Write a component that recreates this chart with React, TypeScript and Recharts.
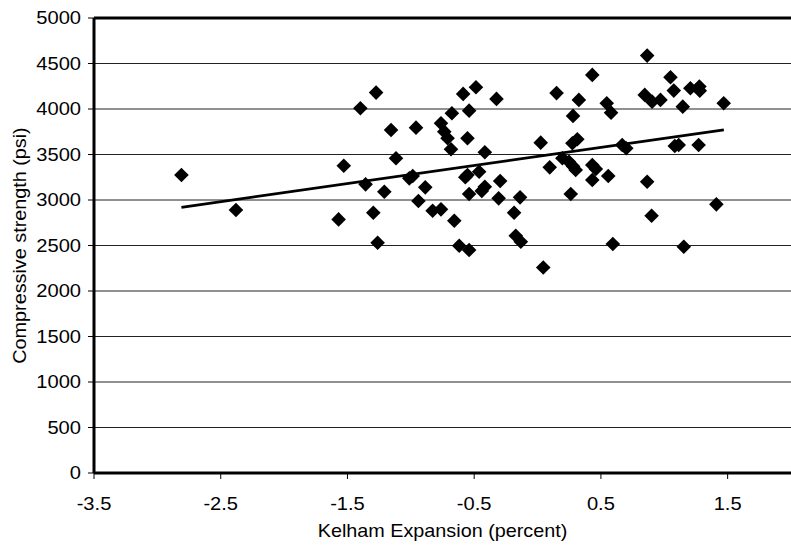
import React from 'react';
import { ScatterChart, Scatter, XAxis, YAxis, CartesianGrid, ReferenceLine, Label } from 'recharts';

const expansion = [
  -2.81, -2.38,
  -1.274, -1.398, -1.156, -0.959, -1.529, -1.117, -1.357, -1.209, -1.012, -0.985, -0.886, -0.94, -0.828, -0.762, -1.296, -1.57, -1.262,
  -0.762, -0.736, -0.71, -0.683,
  -0.587, -0.486, -0.324, 0.15, -0.676, -0.54, -0.553, -0.416, 0.025, 0.096, -0.553, -0.57, -0.461, -0.416, -0.44, -0.54, -0.295, -0.307, -0.138, -0.185, -0.172, -0.132, 0.045, -0.657, -0.618, -0.54,
  0.865, 0.432, 1.049, 1.075, 0.326, 0.546, 0.58, 0.846, 0.904, 0.97, 0.28, 0.314, 0.275, 0.668, 0.7, 1.083, 0.196, 0.248, 0.301, 0.28, 0.432, 0.46, 0.432, 0.558, 0.262, 0.865, 0.9, 0.594, 1.154,
  1.206, 1.277, 1.28, 1.146, 1.469, 1.114, 1.271, 1.411,
];

const strength = [
  3275, 2890,
  4180, 4008, 3770, 3795, 3377, 3458, 3172, 3091, 3238, 3264, 3139, 2989, 2882, 2897, 2860, 2787, 2530,
  3843, 3751, 3678, 3557,
  4166, 4239, 4111, 4175, 3953, 3982, 3678, 3524, 3630, 3359, 3275, 3250, 3311, 3146, 3100, 3066, 3209, 3018, 3029, 2860, 2607, 2541, 2259, 2772, 2497, 2450,
  4587, 4375, 4349, 4202, 4100, 4063, 3960, 4155, 4081, 4100, 3924, 3667, 3623, 3605, 3568, 3594, 3458, 3421, 3330, 3370, 3385, 3340, 3220, 3264, 3066, 3201, 2827, 2516, 2486,
  4228, 4246, 4200, 4026, 4063, 3605, 3605, 2952,
];

const trendX = [-2.81, 1.47];
const trendY = [2920, 3770];

const xTicks = [-3.5, -2.5, -1.5, -0.5, 0.5, 1.5];
const yTicks = [0, 500, 1000, 1500, 2000, 2500, 3000, 3500, 4000, 4500, 5000];

const points = expansion.map((x, i) => ({ x, y: strength[i] }));
const trend = trendX.map((x, i) => ({ x, y: trendY[i] }));

const FONT = '"Liberation Sans", Arial, sans-serif';
const TICK_SIZE = 17.5;
const TICK_SCALE = 1.15;
const LABEL_SIZE = 18;
const LABEL_SCALE = 1.1;

const Diamond = (props: any) => {
  const { cx, cy } = props;
  if (cx == null || cy == null) return <g />;
  const r = 7.3;
  return (
    <polygon
      points={`${cx},${cy - r} ${cx + r},${cy} ${cx},${cy + r} ${cx - r},${cy}`}
      fill="#000"
    />
  );
};

const NoShape = () => <g />;

const YTick = (props: any) => {
  const { x, y, payload } = props;
  return (
    <text
      transform={`translate(${x},${y}) scale(${TICK_SCALE},1)`}
      x={0}
      y={0}
      dy="0.355em"
      textAnchor="end"
      fill="#000"
      fontSize={TICK_SIZE}
      fontFamily={FONT}
    >
      {payload.value}
    </text>
  );
};

const XTick = (props: any) => {
  const { x, y, payload } = props;
  return (
    <text
      transform={`translate(${x},${y}) scale(${TICK_SCALE},1)`}
      x={0}
      y={0}
      dy="0.71em"
      textAnchor="middle"
      fill="#000"
      fontSize={TICK_SIZE}
      fontFamily={FONT}
    >
      {payload.value}
    </text>
  );
};

const XLabel = (props: any) => {
  const vb = props.viewBox || {};
  const cx = vb.x + vb.width / 2;
  const baseline = 537;
  return (
    <text
      transform={`translate(${cx},${baseline}) scale(${LABEL_SCALE},1)`}
      x={0}
      y={0}
      textAnchor="middle"
      fill="#000"
      fontSize={LABEL_SIZE}
      fontFamily={FONT}
    >
      Kelham Expansion (percent)
    </text>
  );
};

const YLabel = (props: any) => {
  const vb = props.viewBox || {};
  const cy = vb.y + vb.height / 2;
  const baselineX = 26;
  return (
    <text
      transform={`translate(${baselineX},${cy}) rotate(-90) scale(${LABEL_SCALE},1)`}
      x={0}
      y={0}
      textAnchor="middle"
      fill="#000"
      fontSize={LABEL_SIZE}
      fontFamily={FONT}
    >
      Compressive strength (psi)
    </text>
  );
};

export default function App() {
  return (
    <div style={{ position: 'absolute', left: 0, top: 0, background: '#fff' }}>
      <ScatterChart width={791} height={550} margin={{ top: 18, right: 0, left: 0, bottom: 0 }}>
        <CartesianGrid vertical={false} stroke="#222" strokeWidth={1} />
        <XAxis
          type="number"
          dataKey="x"
          domain={[-3.5, 2]}
          ticks={xTicks}
          height={77}
          tickSize={6}
          tickMargin={19}
          axisLine={{ stroke: '#000', strokeWidth: 3 }}
          tickLine={{ stroke: '#000', strokeWidth: 1 }}
          tick={<XTick />}
          allowDataOverflow
        >
          <Label content={<XLabel />} />
        </XAxis>
        <YAxis
          type="number"
          dataKey="y"
          domain={[0, 5000]}
          ticks={yTicks}
          width={94}
          tickSize={6}
          tickMargin={7}
          axisLine={{ stroke: '#000', strokeWidth: 3 }}
          tickLine={{ stroke: '#000', strokeWidth: 1 }}
          tick={<YTick />}
          allowDataOverflow
        >
          <Label content={<YLabel />} />
        </YAxis>
        <ReferenceLine y={5000} stroke="#000" strokeWidth={3} />
        <Scatter data={points} shape={Diamond} isAnimationActive={false} />
        <Scatter
          data={trend}
          line={{ stroke: '#000', strokeWidth: 2.8 }}
          lineType="joint"
          shape={NoShape}
          isAnimationActive={false}
        />
      </ScatterChart>
    </div>
  );
}
